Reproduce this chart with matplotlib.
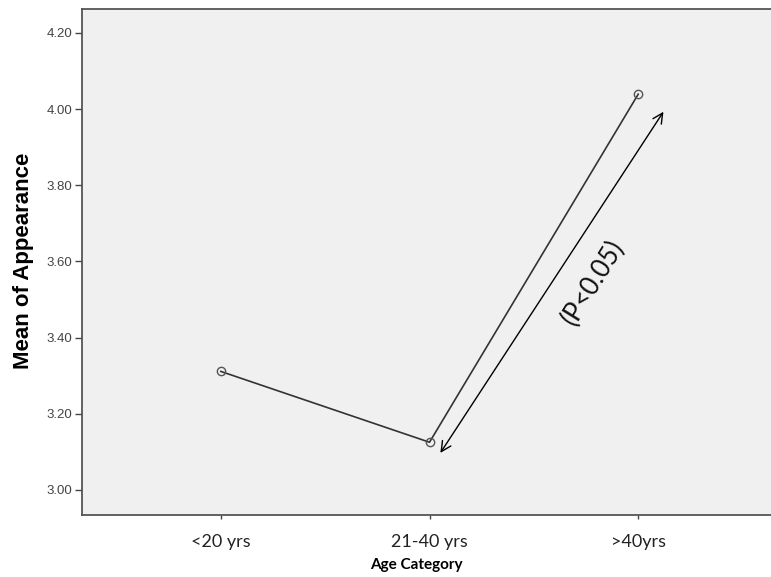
import matplotlib
matplotlib.use("Agg")
import matplotlib.pyplot as plt

# Mean appearance score by age group
categories = ["<20 yrs", "21-40 yrs", ">40yrs"]
means = [3.311, 3.125, 4.039]
y_ticks = [3.00, 3.20, 3.40, 3.60, 3.80, 4.00, 4.20]
p_label = "(P<0.05)"

fig = plt.figure(figsize=(7.71, 5.77), dpi=100)
ax = fig.add_axes([0.1064, 0.1075, 0.8946, 0.877])
ax.set_facecolor("#f0f0f0")

x = list(range(len(categories)))
ax.plot(x, means, color="#333333", linewidth=1.2, marker="o", markersize=6,
        markerfacecolor="none", markeredgecolor="#555555", markeredgewidth=1.0,
        zorder=3)

# Double-headed arrow alongside the rising segment
ax.annotate("", xy=(2.121, 3.993), xytext=(1.052, 3.097),
            arrowprops=dict(arrowstyle="<->", color="black", lw=1.0,
                            mutation_scale=18, shrinkA=0, shrinkB=0))
ax.text(1.785, 3.545, p_label, rotation=58, fontsize=18.5, family="Lato",
        ha="center", va="center", rotation_mode="anchor", color="#111111")

ax.set_xlim(-0.665, 2.64)
ax.set_ylim(2.934, 4.263)
ax.set_xticks(x)
ax.set_xticklabels(categories, fontsize=13, family="Lato", color="#222222")
ax.set_yticks(y_ticks)
ax.set_yticklabels([f"{v:.2f}" for v in y_ticks], fontsize=9.5,
                   family="Liberation Sans", color="#444444")

ax.tick_params(axis="y", direction="out", length=5, width=1.0, color="#444444", pad=2)
ax.tick_params(axis="x", direction="out", length=3, width=1.0, color="#444444", pad=11)

for side in ["left", "bottom", "top", "right"]:
    ax.spines[side].set_color("#555555")
    ax.spines[side].set_linewidth(1.3)

ax.set_ylabel("Mean of Appearance", fontsize=16, fontweight="bold",
              family="Liberation Sans")
ax.yaxis.set_label_coords(-0.070, 0.502)
ax.set_xlabel("Age Category", fontsize=11, fontweight="bold", family="Lato")
ax.xaxis.set_label_coords(0.484, -0.085)

fig.savefig("out.png", dpi=100, facecolor="white")
